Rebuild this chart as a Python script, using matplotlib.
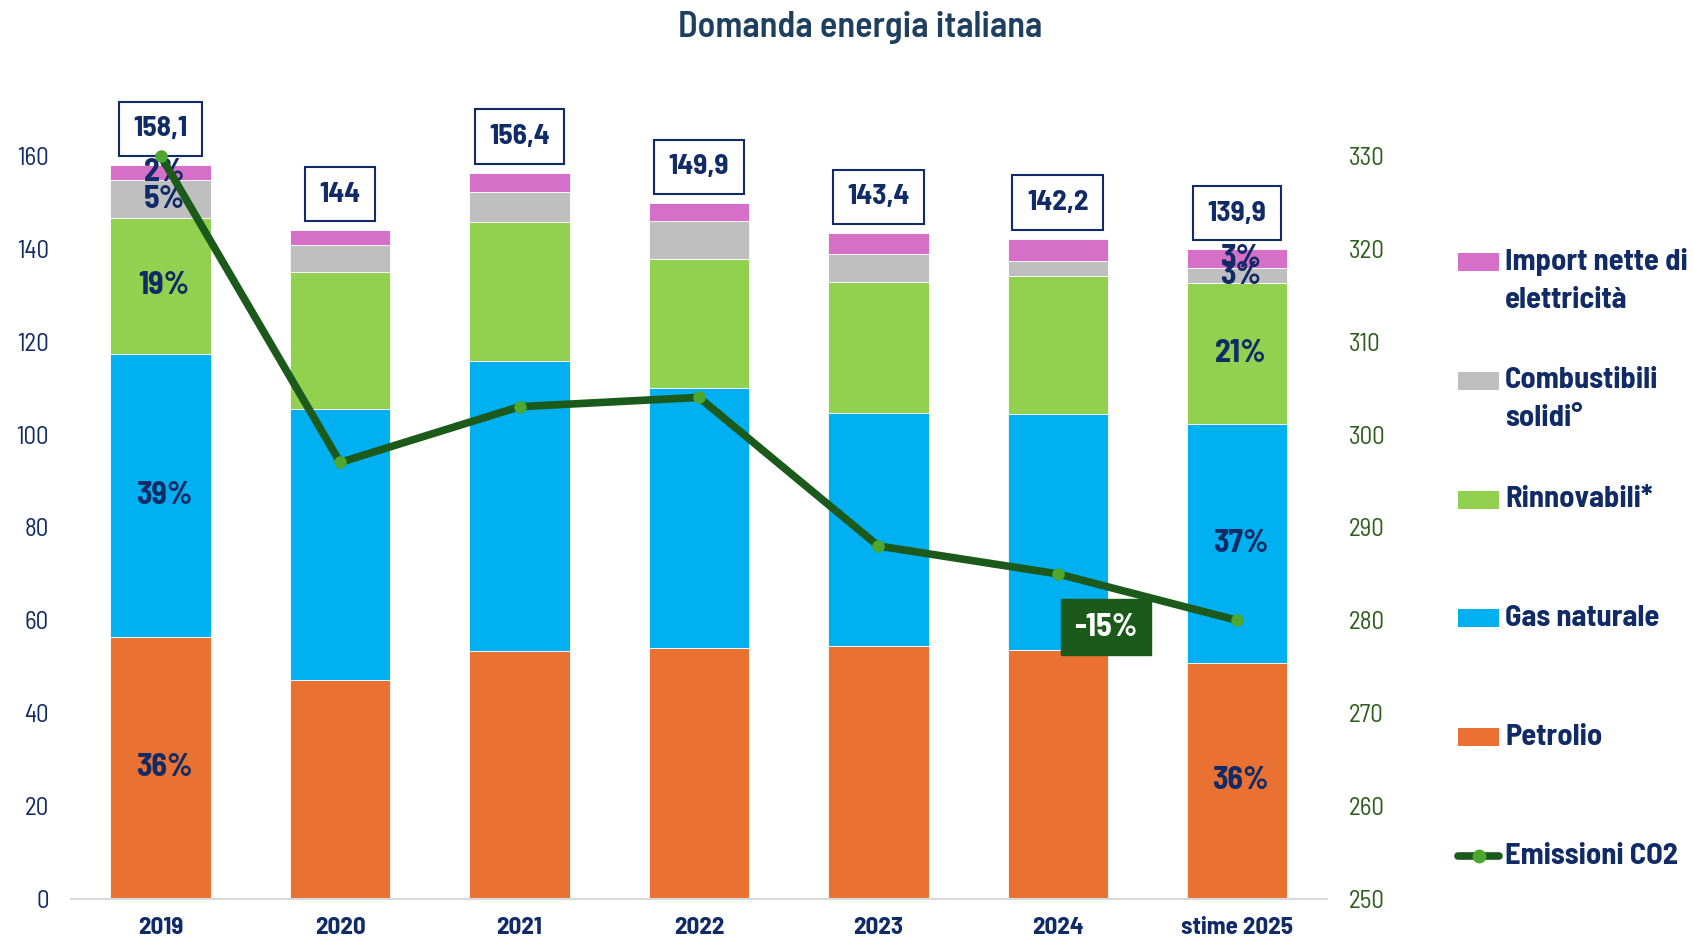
import matplotlib
matplotlib.use("Agg")
import matplotlib.pyplot as plt
from matplotlib.patches import Rectangle
from matplotlib.lines import Line2D

plt.rcParams['font.family'] = ['Barlow Semi Condensed', 'Liberation Sans Narrow', 'DejaVu Sans']

# Data (Mtep)
years = ['2019', '2020', '2021', '2022', '2023', '2024', 'stime 2025']
petrolio = [56.5, 47.2, 53.5, 54.0, 54.4, 53.7, 50.9]
gas = [60.9, 58.4, 62.3, 56.0, 50.3, 50.7, 51.4]
rinnovabili = [29.3, 29.3, 30.0, 27.7, 28.1, 29.8, 30.3]
solidi = [8.0, 6.0, 6.5, 8.3, 6.0, 3.2, 3.2]
importazioni = [3.4, 3.1, 4.1, 3.9, 4.6, 4.8, 4.1]
co2 = [330, 297, 303, 304, 288, 285, 280]

# percentage labels shown in the chart (first and last bar)
pct_2019 = ['36%', '39%', '19%', '5%', '2%']
pct_2025 = ['36%', '37%', '21%', '3%', '3%']

series = [petrolio, gas, rinnovabili, solidi, importazioni]
colors = ['#E97132', '#00B0F0', '#92D050', '#BFBFBF', '#D66FC8']
legend_labels = ['Import nette di\nelettricità', 'Combustibili\nsolidi°',
                 'Rinnovabili*', 'Gas naturale', 'Petrolio']

navy = '#112B66'
green_dark = '#1B5A1B'
green_light = '#4EA72E'

fig = plt.figure(figsize=(16.94, 9.40), dpi=100)
ax = fig.add_axes([0.0419, 0.0436, 0.7414, 0.8894])

x = list(range(len(years)))
width = 0.56
bottoms = [0.0] * len(years)
for vals, col in zip(series, colors):
    ax.bar(x, vals, width, bottom=bottoms, color=col, edgecolor='white',
           linewidth=0.6, zorder=2)
    bottoms = [b + v for b, v in zip(bottoms, vals)]
totals = bottoms

# percentage labels inside first and last bar
for idx, labels in ((0, pct_2019), (len(years) - 1, pct_2025)):
    base = 0.0
    for vals, lab in zip(series, labels):
        ax.text(idx + 0.02, base + vals[idx] / 2, lab, ha='center', va='center',
                fontsize=23, fontweight='bold', color=navy, zorder=3)
        base += vals[idx]

# total boxes above bars
for xi, t in zip(x, totals):
    s = f"{t:.1f}"
    if s.endswith('.0'):
        s = s[:-2]
    s = s.replace('.', ',')
    ax.annotate(s, (xi, t), xytext=(0, 26), textcoords='offset points',
                ha='center', va='center', fontsize=21, fontweight='bold',
                color=navy, zorder=5,
                bbox=dict(boxstyle='square,pad=0.5', fc='white', ec=navy, lw=1.5))

ax.set_xlim(-0.5, len(years) - 0.5)
ax.set_ylim(0, 180)
ax.set_yticks(range(0, 161, 20))
ax.set_xticks(x)
ax.set_xticklabels(years, fontweight='bold', fontsize=18, color=navy)
ax.tick_params(axis='y', length=0, pad=16, labelsize=18, labelcolor=navy)
ax.tick_params(axis='x', length=0, pad=13)
for side in ['top', 'right', 'left']:
    ax.spines[side].set_visible(False)
ax.spines['bottom'].set_color('#D9D9D9')
ax.spines['bottom'].set_linewidth(1.5)

# CO2 emissions on secondary axis
ax2 = ax.twinx()
ax2.plot(x, co2, color=green_dark, lw=5.5, marker='o', ms=8,
         mfc=green_light, mec=green_light, zorder=4)
ax2.set_ylim(250, 340)
ax2.set_yticks(range(250, 331, 10))
ax2.tick_params(axis='y', length=0, pad=16, labelsize=18, labelcolor='#2E5E1E')
for side in ['top', 'right', 'left', 'bottom']:
    ax2.spines[side].set_visible(False)

change = (co2[-1] / co2[0] - 1) * 100
ax.text(5.27, 58.5, f"{change:.0f}%", ha='center', va='center', fontsize=23,
        fontweight='bold', color='white', zorder=6,
        bbox=dict(boxstyle='square,pad=0.42', fc=green_dark, ec=green_dark))

fig.text(0.508, 0.971, 'Domanda energia italiana', ha='center', va='center',
         fontsize=26, fontweight='semibold', color='#1F3F60')

# legend on the right, built by hand
px_x0 = 1458 / 1694
px_w = 41 / 1694
px_h = 18 / 940
txt_x = 1505 / 1694
y_first = 1 - 262 / 940
dy = 118.8 / 940
line_h = 38 / 940
for i, (lab, col) in enumerate(zip(legend_labels, colors[::-1])):
    yc = y_first - i * dy
    fig.add_artist(Rectangle((px_x0, yc - px_h / 2), px_w, px_h,
                             transform=fig.transFigure, fc=col, ec='none'))
    for j, line in enumerate(lab.split('\n')):
        fig.text(txt_x, yc - j * line_h, line, ha='left', va='center',
                 fontsize=22, fontweight='bold', color=navy)
yc = y_first - len(legend_labels) * dy
fig.add_artist(Line2D([px_x0, px_x0 + px_w], [yc, yc], transform=fig.transFigure,
                      color=green_dark, lw=5.5, solid_capstyle='round'))
fig.add_artist(Line2D([px_x0 + px_w / 2], [yc], transform=fig.transFigure,
                      marker='o', ms=9, color=green_light, lw=0))
fig.text(txt_x, yc, 'Emissioni CO2', ha='left', va='center',
         fontsize=22, fontweight='bold', color=navy)

fig.savefig('out.png', dpi=100)
